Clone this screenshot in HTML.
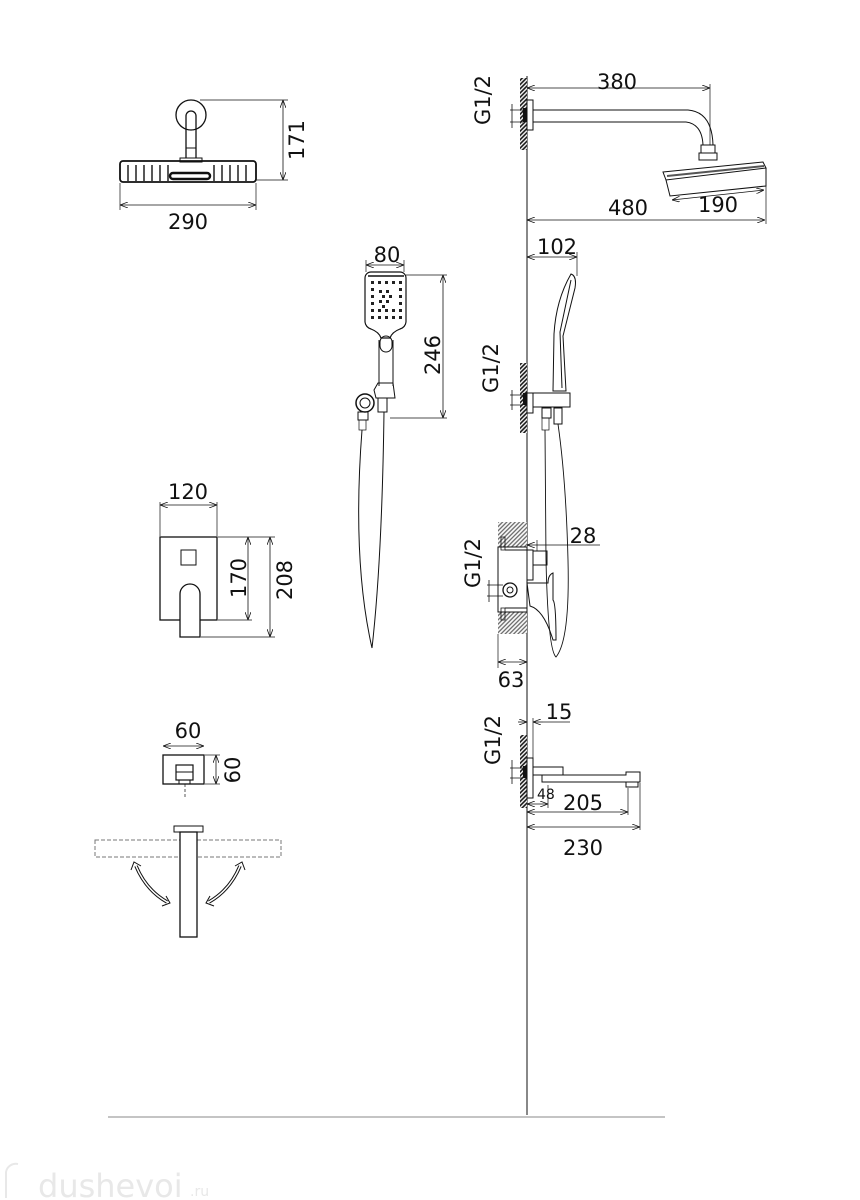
<!DOCTYPE html>
<html><head><meta charset="utf-8"><style>
html,body{margin:0;padding:0;background:#fff;width:860px;height:1200px;overflow:hidden}
svg{display:block}
text{font-family:"DejaVu Sans","Liberation Sans",sans-serif;fill:#111}
</style></head><body>
<svg width="860" height="1200" viewBox="0 0 860 1200" xmlns="http://www.w3.org/2000/svg">
<defs>
<pattern id="h" width="3" height="3" patternUnits="userSpaceOnUse" patternTransform="rotate(45)">
<rect width="3" height="3" fill="#fff"/><line x1="1.5" y1="-1" x2="1.5" y2="4" stroke="#111" stroke-width="1.6"/></pattern>
<pattern id="hg" width="3" height="3" patternUnits="userSpaceOnUse" patternTransform="rotate(45)">
<rect width="3" height="3" fill="#fff"/><line x1="1.5" y1="-1" x2="1.5" y2="4" stroke="#666" stroke-width="1.3"/></pattern>
<marker id="a" markerWidth="8" markerHeight="6" refX="8" refY="3" orient="auto-start-reverse" markerUnits="userSpaceOnUse"><path d="M0,0 L8,3 L0,6" fill="none" stroke="#111" stroke-width="0.8"/></marker>
</defs>
<g fill="none" stroke="#111" stroke-width="1">
<line x1="527" y1="76" x2="527" y2="1115"/>
<line x1="108" y1="1117" x2="665" y2="1117" stroke="#888"/>

<circle cx="191" cy="115" r="15" stroke-width="1.3"/>
<path d="M186,158 V116 a5,5 0 0 1 10,0 V158" stroke-width="1.3"/>
<rect x="186" y="148" width="10" height="10"/>
<rect x="180" y="158" width="22" height="4"/>
<rect x="120" y="161" width="136" height="21" rx="3" stroke-width="1.8"/>
<g stroke-width="1.4"><line x1="128" y1="165" x2="128" y2="181"/><line x1="136" y1="165" x2="136" y2="181"/><line x1="144" y1="165" x2="144" y2="181"/><line x1="152" y1="165" x2="152" y2="181"/><line x1="160" y1="165" x2="160" y2="181"/><line x1="168" y1="165" x2="168" y2="181"/><line x1="214" y1="165" x2="214" y2="181"/><line x1="222" y1="165" x2="222" y2="181"/><line x1="230" y1="165" x2="230" y2="181"/><line x1="238" y1="165" x2="238" y2="181"/><line x1="246" y1="165" x2="246" y2="181"/></g>
<rect x="170" y="173" width="40" height="6" rx="3" stroke-width="2.5"/>
<line x1="200" y1="100" x2="288" y2="100" stroke-width="0.7"/>
<line x1="256" y1="180" x2="288" y2="180" stroke-width="0.7"/>
<line x1="283" y1="100" x2="283" y2="180" marker-start="url(#a)" marker-end="url(#a)" stroke-width="0.8"/>
<line x1="120" y1="183" x2="120" y2="210" stroke-width="0.7"/><line x1="256" y1="183" x2="256" y2="210" stroke-width="0.7"/>
<line x1="120" y1="205" x2="256" y2="205" marker-start="url(#a)" marker-end="url(#a)" stroke-width="0.8"/>

<rect x="520" y="78" width="7" height="72" fill="url(#h)" stroke="none"/>
<rect x="523" y="108" width="4" height="14" fill="#111" stroke="none"/>
<path d="M510,110 H523 M510,122 H523 M512,104 V128" stroke-width="0.8"/>
<rect x="527" y="100" width="6" height="30"/>
<path d="M533,110 H688 Q712,112 713,145 M533,122 H686 Q702,124 703,145"/>
<rect x="701" y="145" width="14" height="8"/>
<rect x="699" y="153" width="18" height="7"/>
<path d="M663,172 L763,162 L766,168 L666,180 Z"/>
<path d="M666,180 L670,196 L766,186 L766,168"/>
<line x1="667" y1="176" x2="764" y2="166" stroke-width="2" stroke="#555"/>
<line x1="527" y1="88" x2="710" y2="88" marker-start="url(#a)" marker-end="url(#a)" stroke-width="0.8"/>
<line x1="710" y1="84" x2="710" y2="145" stroke-width="0.7"/>
<line x1="766" y1="184" x2="766" y2="224" stroke-width="0.7"/>
<line x1="527" y1="220" x2="765" y2="220" marker-start="url(#a)" marker-end="url(#a)" stroke-width="0.8"/>
<line x1="672" y1="200" x2="764" y2="190" marker-start="url(#a)" marker-end="url(#a)" stroke-width="0.8"/>

<path d="M372,272 H400 a6,6 0 0 1 6,6 V322 a8,8 0 0 1 -6,7 Q392,332 390,338 H381 Q379,332 371,329 a8,8 0 0 1 -6,-7 V278 a6,6 0 0 1 6,-6 Z" stroke-width="1.2"/>
<line x1="368" y1="276" x2="404" y2="276" stroke-width="1.6"/>
<g fill="#222" stroke="none">
<rect x="371" y="281" width="3" height="3"/><rect x="378" y="281" width="3" height="3"/><rect x="385" y="281" width="3" height="3"/><rect x="392" y="281" width="3" height="3"/><rect x="399" y="281" width="3" height="3"/>
<rect x="371" y="288" width="3" height="3"/><rect x="399" y="288" width="3" height="3"/><rect x="371" y="295" width="3" height="3"/><rect x="399" y="295" width="3" height="3"/><rect x="371" y="302" width="3" height="3"/><rect x="399" y="302" width="3" height="3"/>
<rect x="371" y="309" width="3" height="3"/><rect x="378" y="309" width="3" height="3"/><rect x="385" y="309" width="3" height="3"/><rect x="392" y="309" width="3" height="3"/><rect x="399" y="309" width="3" height="3"/>
<rect x="371" y="316" width="3" height="3"/><rect x="378" y="316" width="3" height="3"/><rect x="385" y="316" width="3" height="3"/><rect x="392" y="316" width="3" height="3"/><rect x="399" y="316" width="3" height="3"/>
<rect x="379" y="290" width="3" height="3"/><rect x="386" y="290" width="3" height="3"/><rect x="382" y="295" width="3" height="3"/><rect x="389" y="295" width="3" height="3"/><rect x="379" y="300" width="3" height="3"/><rect x="386" y="300" width="3" height="3"/><rect x="382" y="305" width="3" height="3"/></g>
<rect x="380" y="336" width="12" height="16" rx="6"/>
<path d="M379,340 V386 M393,340 V386"/>
<path d="M374,390 L378,383 H393 L395,398 H376 Z"/>
<circle cx="365" cy="403" r="9" stroke-width="1.5"/><circle cx="365" cy="403" r="5"/>
<rect x="358" y="412" width="10" height="8"/><rect x="378" y="398" width="9" height="14"/>
<rect x="359" y="420" width="7" height="10" stroke-width="0.7"/>
<path d="M362,430 Q352,560 372,648 Q382,560 384,412"/>
<line x1="366" y1="265" x2="404" y2="265" marker-start="url(#a)" marker-end="url(#a)" stroke-width="0.8"/>
<line x1="366" y1="260" x2="366" y2="272" stroke-width="0.7"/><line x1="404" y1="260" x2="404" y2="272" stroke-width="0.7"/>
<line x1="406" y1="275" x2="447" y2="275" stroke-width="0.7"/><line x1="390" y1="418" x2="447" y2="418" stroke-width="0.7"/>
<line x1="443" y1="275" x2="443" y2="418" marker-start="url(#a)" marker-end="url(#a)" stroke-width="0.8"/>

<rect x="520" y="363" width="7" height="70" fill="url(#h)" stroke="none"/>
<rect x="523" y="393" width="4" height="12" fill="#111" stroke="none"/>
<path d="M510,395 H523 M510,405 H523 M512,390 V410" stroke-width="0.8"/>
<rect x="527" y="393" width="6" height="20"/>
<rect x="533" y="393" width="37" height="14"/>
<path d="M571,274 Q577,276 575,288 L563,336 L566,391 H553 L554,334 Q556,300 571,274 Z"/>
<path d="M571,280 L560,332 L562,388"/>
<rect x="542" y="408" width="9" height="10"/><rect x="554" y="408" width="8" height="16"/>
<rect x="542" y="418" width="7" height="12" stroke-width="0.7"/>
<path d="M545,430 L546,560 Q548,650 556,657 Q570,640 568,560 Q566,480 558,424" stroke-width="0.9"/>
<line x1="527" y1="257" x2="577" y2="257" marker-start="url(#a)" marker-end="url(#a)" stroke-width="0.8"/>
<line x1="577" y1="252" x2="577" y2="276" stroke-width="0.7"/>

<rect x="160" y="537" width="57" height="83" stroke-width="1.3"/>
<rect x="181" y="550" width="15" height="15"/>
<path d="M180,637 V594 a10,10 0 0 1 20,0 V637 Z" fill="#fff" stroke-width="1.3"/>
<line x1="160" y1="502" x2="160" y2="536" stroke-width="0.7"/><line x1="217" y1="502" x2="217" y2="536" stroke-width="0.7"/>
<line x1="160" y1="505" x2="217" y2="505" marker-start="url(#a)" marker-end="url(#a)" stroke-width="0.8"/>
<line x1="218" y1="537" x2="275" y2="537" stroke-width="0.7"/><line x1="218" y1="620" x2="252" y2="620" stroke-width="0.7"/><line x1="201" y1="637" x2="275" y2="637" stroke-width="0.7"/>
<line x1="248" y1="537" x2="248" y2="620" marker-start="url(#a)" marker-end="url(#a)" stroke-width="0.8"/>
<line x1="270" y1="537" x2="270" y2="637" marker-start="url(#a)" marker-end="url(#a)" stroke-width="0.8"/>

<rect x="498" y="522" width="29" height="25" fill="url(#hg)" stroke="none"/>
<rect x="498" y="612" width="29" height="22" fill="url(#hg)" stroke="none"/>
<rect x="498" y="547" width="29" height="65"/>
<path d="M501,537 H505 V550 H501 Z M501,608 H505 V620 H501 Z" stroke-width="0.8"/>
<line x1="505" y1="550" x2="527" y2="550"/><line x1="505" y1="608" x2="527" y2="608"/>
<circle cx="510" cy="590" r="7" stroke-width="1.3"/><circle cx="510" cy="590" r="3"/>
<path d="M487,585 H503 M487,596 H503 M489,580 V602" stroke-width="0.8"/>
<rect x="527" y="550" width="6" height="30"/>
<rect x="533" y="551" width="14" height="14"/>
<path d="M527,583 H548 Q548,575 553,573 L553,600 Q556,603 556,640 L553,640 Q544,610 530,606 Z"/>
<line x1="498" y1="634" x2="498" y2="668" stroke-width="0.7"/>
<line x1="498" y1="662" x2="527" y2="662" marker-start="url(#a)" marker-end="url(#a)" stroke-width="0.8"/>
<line x1="527" y1="545" x2="600" y2="545" marker-start="url(#a)" stroke-width="0.8"/>
<line x1="537" y1="540" x2="537" y2="551" stroke-width="0.7"/>

<rect x="520" y="735" width="7" height="73" fill="url(#h)" stroke="none"/>
<rect x="523" y="766" width="4" height="12" fill="#111" stroke="none"/>
<path d="M510,768 H523 M510,778 H523 M512,760 V784" stroke-width="0.8"/>
<rect x="527" y="758" width="6" height="40"/>
<rect x="533" y="767" width="30" height="8"/>
<path d="M542,775 V782 H640 V772 H626 V775 Z"/>
<rect x="626" y="782" width="12" height="5"/>
<line x1="533" y1="718" x2="533" y2="758" stroke-width="0.7"/>
<line x1="518" y1="722" x2="527" y2="722" marker-end="url(#a)" stroke-width="0.8"/><line x1="543" y1="722" x2="533" y2="722" marker-end="url(#a)" stroke-width="0.8"/><line x1="543" y1="722" x2="570" y2="722" stroke-width="0.8"/>
<line x1="548" y1="785" x2="548" y2="808" stroke-width="0.7"/>
<line x1="527" y1="804" x2="548" y2="804" marker-start="url(#a)" marker-end="url(#a)" stroke-width="0.8"/>
<line x1="628" y1="788" x2="628" y2="815" stroke-width="0.7"/><line x1="640" y1="783" x2="640" y2="830" stroke-width="0.7"/>
<line x1="527" y1="812" x2="628" y2="812" marker-start="url(#a)" marker-end="url(#a)" stroke-width="0.8"/>
<line x1="527" y1="827" x2="640" y2="827" marker-start="url(#a)" marker-end="url(#a)" stroke-width="0.8"/>

<rect x="163" y="755" width="41" height="29" stroke-width="1.3"/>
<rect x="176" y="765" width="17" height="15" stroke-width="1.2"/><line x1="176" y1="772" x2="193" y2="772"/>
<rect x="179" y="780" width="11" height="4"/>
<line x1="185" y1="784" x2="185" y2="798" stroke-dasharray="3,2" stroke-width="0.7"/>
<line x1="163" y1="746" x2="204" y2="746" marker-start="url(#a)" marker-end="url(#a)" stroke-width="0.8"/>
<line x1="205" y1="755" x2="220" y2="755" stroke-width="0.7"/><line x1="205" y1="784" x2="220" y2="784" stroke-width="0.7"/>
<line x1="216" y1="755" x2="216" y2="784" marker-start="url(#a)" marker-end="url(#a)" stroke-width="0.8"/>
<rect x="95" y="840" width="186" height="17" stroke-dasharray="4,2" stroke="#777"/>
<rect x="174" y="826" width="29" height="6" fill="#fff"/>
<rect x="180" y="832" width="17" height="105" fill="#fff" stroke-width="1.3"/>
<path d="M136,866 Q146,890 167,902" stroke-width="3.5"/><path d="M136,866 Q146,890 167,902" stroke="#fff" stroke-width="1.5"/>
<path d="M240,866 Q230,890 209,902" stroke-width="3.5"/><path d="M240,866 Q230,890 209,902" stroke="#fff" stroke-width="1.5"/>
<path d="M131,870 L134,862 L141,866 M162,906 L170,903 L166,896" stroke-width="1"/>
<path d="M245,870 L242,862 L235,866 M214,906 L206,903 L210,896" stroke-width="1"/>
</g>

<g font-size="21">
<text x="188" y="229" text-anchor="middle">290</text>
<text transform="translate(304,140) rotate(-90)" text-anchor="middle">171</text>
<text x="617" y="89" text-anchor="middle">380</text>
<text transform="translate(490,100) rotate(-90)" text-anchor="middle">G1/2</text>
<text x="628" y="215" text-anchor="middle">480</text>
<text x="718" y="212" text-anchor="middle">190</text>
<text x="387" y="262" text-anchor="middle">80</text>
<text transform="translate(440,355) rotate(-90)" text-anchor="middle">246</text>
<text x="557" y="254" text-anchor="middle">102</text>
<text transform="translate(498,368) rotate(-90)" text-anchor="middle">G1/2</text>
<text x="188" y="499" text-anchor="middle">120</text>
<text transform="translate(246,578) rotate(-90)" text-anchor="middle">170</text>
<text transform="translate(292,580) rotate(-90)" text-anchor="middle">208</text>
<text transform="translate(480,563) rotate(-90)" text-anchor="middle">G1/2</text>
<text x="583" y="543" text-anchor="middle">28</text>
<text x="511" y="687" text-anchor="middle">63</text>
<text transform="translate(500,740) rotate(-90)" text-anchor="middle">G1/2</text>
<text x="559" y="719" text-anchor="middle">15</text>
<text x="583" y="810" text-anchor="middle">205</text>
<text x="583" y="855" text-anchor="middle">230</text>
<text x="188" y="738" text-anchor="middle">60</text>
<text transform="translate(240,770) rotate(-90)" text-anchor="middle">60</text>
</g>
<text x="537" y="799" font-size="14">48</text>
<text x="38" y="1197" font-size="32" style="fill:#e8e8e8">dushevoi</text>
<text x="190" y="1196" font-size="14" style="fill:#e8e8e8">.ru</text>
<path d="M6,1198 V1172 a10,10 0 0 1 12,-8" fill="none" stroke="#e8e8e8" stroke-width="2"/>
</svg>
</body></html>
